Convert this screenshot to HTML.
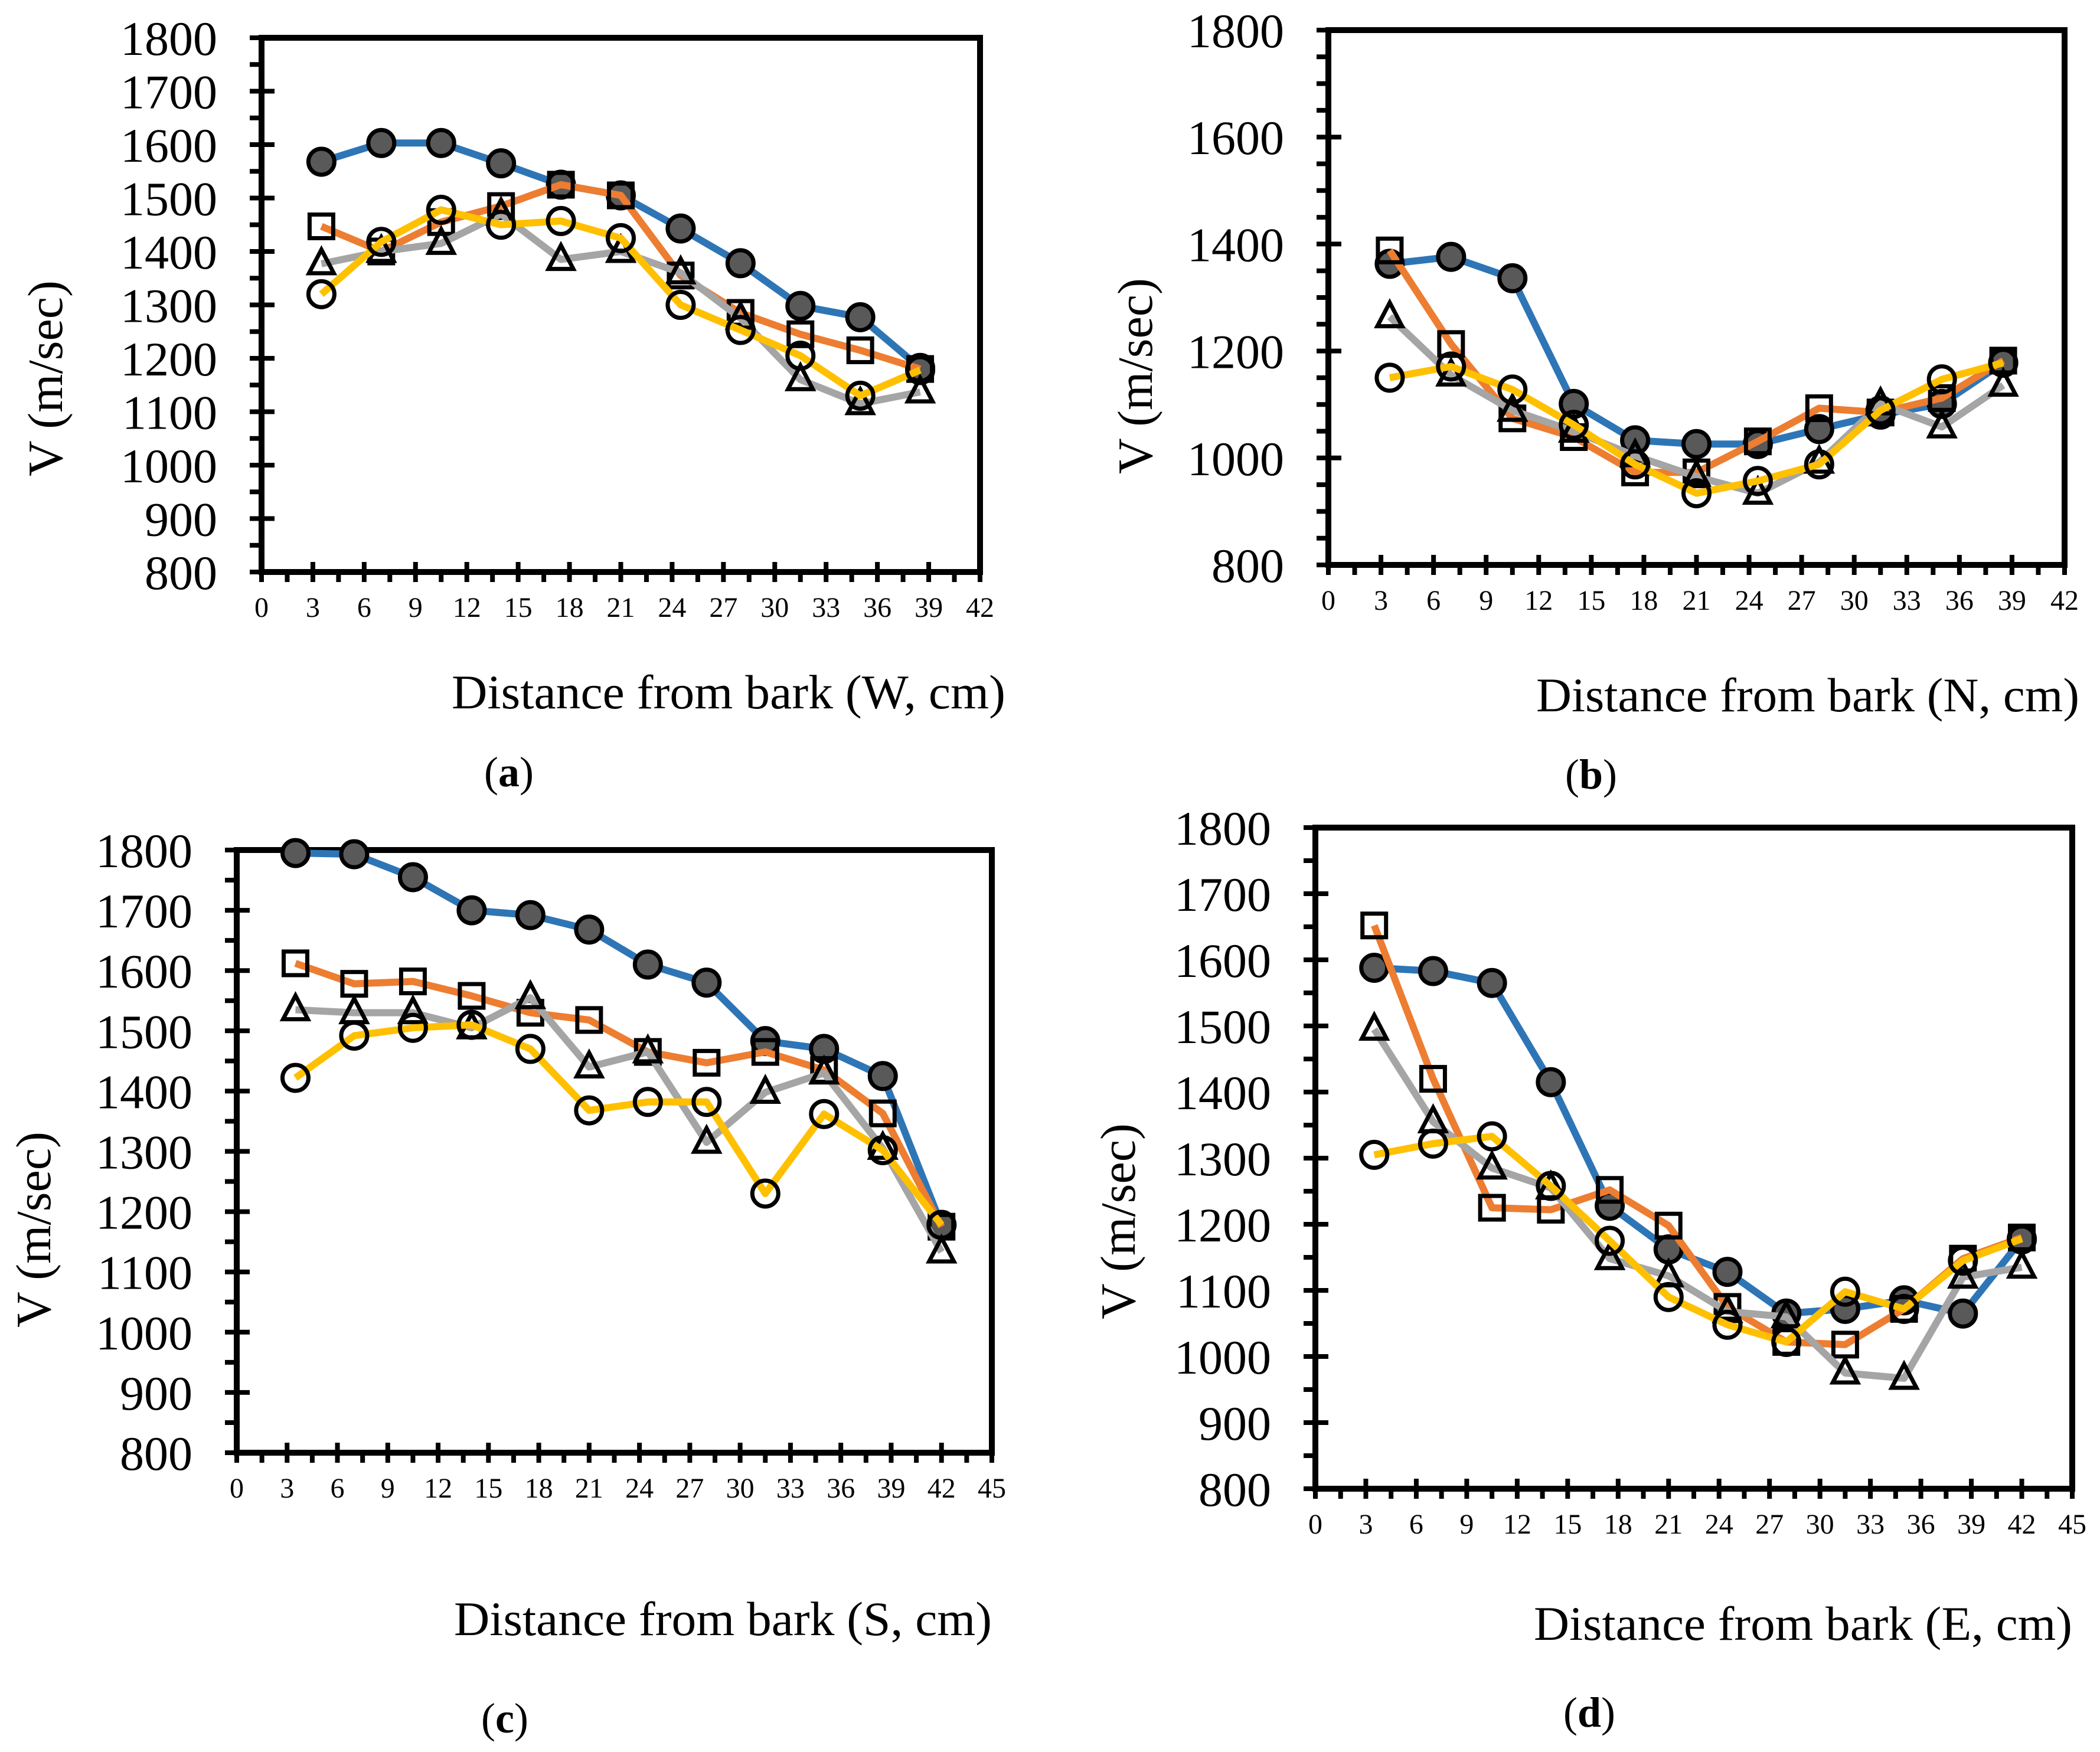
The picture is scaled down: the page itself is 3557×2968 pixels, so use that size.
<!DOCTYPE html>
<html><head><meta charset="utf-8"><style>
html,body{margin:0;padding:0;background:#fff;}
svg{display:block;font-family:"Liberation Serif","Times New Roman",serif;}
</style></head><body>
<svg id="fig" width="3557" height="2968" viewBox="0 0 3557 2968" xmlns="http://www.w3.org/2000/svg"></svg>
<script>
const xA=[3.5,7,10.5,14,17.5,21,24.5,28,31.5,35,38.5];
const xC=[3.5,7,10.5,14,17.5,21,24.5,28,31.5,35,38.5,42];
const aBlue=[1568,1603,1603,1565,1525,1505,1443,1378,1298,1277,1182];
const aOrange=[1447,1400,1455,1485,1525,1505,1355,1285,1245,1215,1180];
const aGrey=[1377,1400,1415,1470,1385,1400,1360,1275,1160,1115,1137];
const aYellow=[1320,1418,1478,1450,1457,1425,1300,1253,1205,1130,1178];
const bBlue=[1363,1376,1336,1101,1033,1026,1026,1054,1081,1101,1178];
const bOrange=[1388,1213,1074,1039,973,973,1031,1093,1085,1112,1182];
const bGrey=[1264,1155,1089,1050,1004,965,934,992,1101,1058,1136];
const bYellow=[1150,1171,1128,1062,988,934,957,988,1089,1147,1178];
const cBlue=[1795,1793,1755,1700,1692,1668,1610,1580,1483,1470,1425,1178];
const cOrange=[1612,1578,1582,1558,1530,1518,1465,1447,1465,1435,1363,1175];
const cGrey=[1535,1530,1530,1505,1555,1440,1465,1315,1398,1430,1305,1133];
const cYellow=[1422,1492,1505,1510,1470,1368,1382,1382,1230,1362,1302,1178];
const dBlue=[1588,1583,1565,1415,1228,1162,1128,1065,1072,1085,1065,1177];
const dOrange=[1652,1420,1225,1222,1252,1198,1075,1022,1018,1072,1148,1180];
const dGrey=[1495,1355,1285,1255,1148,1122,1068,1060,975,967,1120,1135];
const dYellow=[1305,1322,1333,1258,1175,1090,1048,1022,1098,1072,1145,1178];
const xTicks42=[0,3,6,9,12,15,18,21,24,27,30,33,36,39,42];
const xTicks45=[0,3,6,9,12,15,18,21,24,27,30,33,36,39,42,45];
const yTicks100=[800,900,1000,1100,1200,1300,1400,1500,1600,1700,1800];
const yTicks200=[800,1000,1200,1400,1600,1800];

const NS="http://www.w3.org/2000/svg";
const svg=document.getElementById('fig');
function mk(tag,attrs,parent){const e=document.createElementNS(NS,tag);for(const k in attrs)e.setAttribute(k,attrs[k]);(parent||svg).appendChild(e);return e;}

const panels=[
 {id:'a',L:443,R:1660,T:64,B:969,xmax:42,xs:xA,xt:xTicks42,yt:yTicks100,s:[aBlue,aOrange,aGrey,aYellow],
  yl:{x:105,y:641},xl:{x1:765,x2:1703,y:1200,t:'Distance from bark (W, cm)'},lab:{x:862,y:1332,t:'a'}},
 {id:'b',L:2250,R:3497,T:51,B:957,xmax:42,xs:xA,xt:xTicks42,yt:yTicks200,s:[bBlue,bOrange,bGrey,bYellow],
  yl:{x:1951,y:637},xl:{x1:2602,x2:3522,y:1205,t:'Distance from bark (N, cm)'},lab:{x:2695,y:1336,t:'b'}},
 {id:'c',L:401,R:1680,T:1440,B:2461,xmax:45,xs:xC,xt:xTicks45,yt:yTicks100,s:[cBlue,cOrange,cGrey,cYellow],
  yl:{x:85,y:2083},xl:{x1:769,x2:1680,y:2770,t:'Distance from bark (S, cm)'},lab:{x:855,y:2935,t:'c'}},
 {id:'d',L:2228,R:3510,T:1402,B:2522,xmax:45,xs:xC,xt:xTicks45,yt:yTicks100,s:[dBlue,dOrange,dGrey,dYellow],
  yl:{x:1922,y:2069},xl:{x1:2598,x2:3510,y:2778,t:'Distance from bark (E, cm)'},lab:{x:2692,y:2925,t:'d'}}
];
const colors=['#2E75B6','#ED7D31','#A5A5A5','#FFC000'];
const names=['series-1','series-2','series-3','series-4'];

panels.forEach(p=>{
 const g=mk('g',{});
 
 
 const X=v=>p.L+(v/p.xmax)*(p.R-p.L);
 const Y=v=>p.B-(v-800)/1000*(p.B-p.T);
 // frame
 const fr=mk('rect',{x:p.L,y:p.T,width:p.R-p.L,height:p.B-p.T,fill:'none',stroke:'#000','stroke-width':10},g);
 
 
 // y ticks
 for(let v=800;v<=1800;v+=50){
  const major=p.yt.includes(v)||(p.yt===yTicks200&&false);
  const isLab=p.yt.includes(v);
  const isMaj=isLab||(p.yt===yTicks200? false : false);
  mk('line',{x1:p.L-20,x2:isMaj?p.L+22:p.L,y1:Y(v),y2:Y(v),stroke:'#000','stroke-width':8},g);
 }
 p.yt.forEach(v=>{
  const t=mk('text',{x:p.L-75,y:Y(v)+29,'text-anchor':'end','font-size':82,fill:'#000'},g);
  t.textContent=v;
  
  
 });
 // x ticks
 for(let v=0;v<=p.xmax+0.01;v+=1.5){
  const isMaj=Math.abs(v/3-Math.round(v/3))<0.01;
  mk('line',{x1:X(v),x2:X(v),y1:isMaj?p.B-17:p.B,y2:p.B+17,stroke:'#000','stroke-width':8},g);
 }
 p.xt.forEach(v=>{
  const t=mk('text',{x:X(v),y:p.B+76,'text-anchor':'middle','font-size':48,fill:'#000'},g);
  t.textContent=v;
  
  
 });
 // series
 p.s.forEach((vals,si)=>{
  const sg=mk('g',{},g);
  
  
  const pts=vals.map((v,i)=>X(p.xs[i])+','+Y(v)).join(' ');
  const pl=mk('polyline',{points:pts,fill:'none',stroke:colors[si],'stroke-width':12,'stroke-linejoin':'round'},sg);
  
  
  vals.forEach((v,i)=>{
   const cx=X(p.xs[i]),cy=Y(v);let m;
   if(si===0){m=mk('circle',{cx:cx,cy:cy,r:22,fill:'#595959',stroke:'#000','stroke-width':7},sg);}
   else if(si===1){m=mk('rect',{x:cx-20,y:cy-20,width:40,height:40,fill:'none',stroke:'#000','stroke-width':7},sg);}
   else if(si===2){m=mk('polygon',{points:(cx)+','+(cy-24)+' '+(cx-21)+','+(cy+16)+' '+(cx+21)+','+(cy+16),fill:'none',stroke:'#000','stroke-width':7,'stroke-linejoin':'miter'},sg);}
   else {m=mk('circle',{cx:cx,cy:cy,r:22,fill:'none',stroke:'#000','stroke-width':7},sg);}
   
   
  });
 });
 // y axis title
 const yt=mk('text',{x:p.yl.x,y:p.yl.y,'text-anchor':'middle','font-size':84,fill:'#000',transform:'rotate(-90 '+p.yl.x+' '+p.yl.y+')'},g);
 yt.textContent='V (m/sec)';
 
 
 // x axis title
 const xt=mk('text',{x:p.xl.x1,y:p.xl.y,'font-size':82,fill:'#000',textLength:p.xl.x2-p.xl.x1,lengthAdjust:'spacingAndGlyphs'},g);
 xt.textContent=p.xl.t;
 
 
 // panel label
 const lb=mk('text',{x:p.lab.x,y:p.lab.y,'text-anchor':'middle','font-size':72,fill:'#000'},g);
 
 
 const t1=mk('tspan',{},lb);t1.textContent='(';
 const t2=mk('tspan',{'font-weight':'bold'},lb);t2.textContent=p.lab.t;
 const t3=mk('tspan',{},lb);t3.textContent=')';
});
</script>
</body></html>
